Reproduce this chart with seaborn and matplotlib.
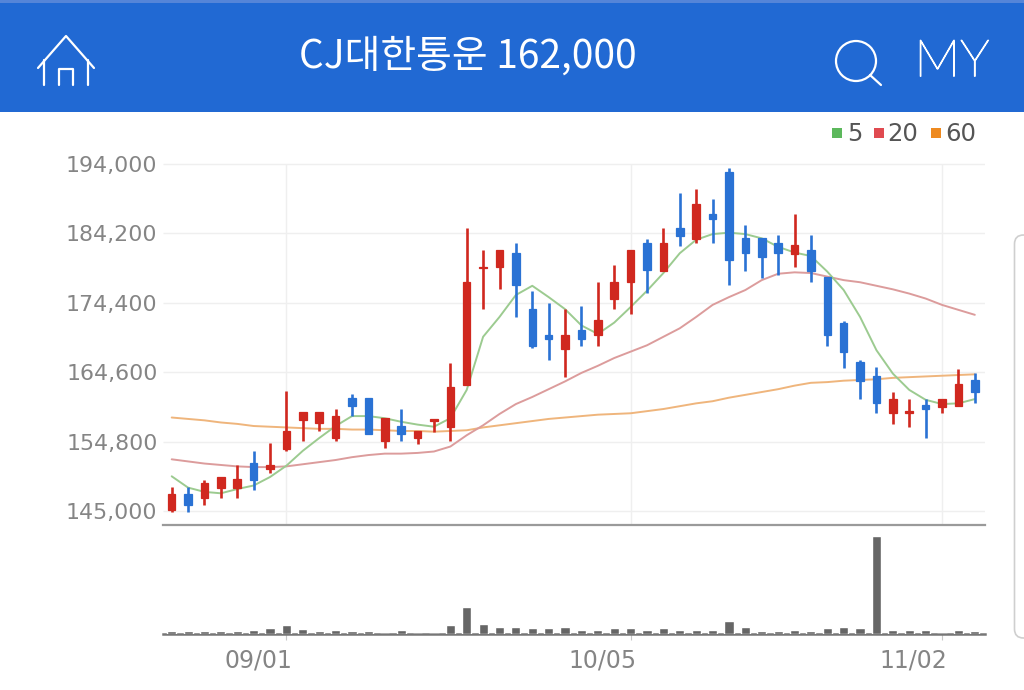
#!/usr/bin/env python3
"""CJ대한통운 daily candle chart with moving averages and volume (mobile screenshot)."""

import numpy as np
import pandas as pd
import matplotlib
matplotlib.use("Agg")
import matplotlib.pyplot as plt
import matplotlib.patheffects as pe
from matplotlib.patches import Rectangle, Circle, FancyBboxPatch
import seaborn as sns

opens = [145200, 147400, 146900, 148300, 148200, 151800, 150900, 153800, 157900, 157400,
         155300, 160900, 160900, 154900, 157000, 155300, 157700, 156900, 162800, 179300,
         179400, 181500, 173500, 169900, 167900, 170500, 169800, 174900, 177400, 182900,
         178900, 184900, 183400, 187000, 192900, 183500, 183500, 182900, 181300, 181900,
         178100, 171500, 166000, 164000, 158900, 158900, 159900, 159700, 159800, 163500]
closes = [147400, 145800, 149000, 149800, 149500, 149400, 151500, 156300, 159000, 159000,
          158400, 159800, 155900, 158100, 155900, 156300, 158000, 162500, 177400, 179500,
          181900, 176900, 168300, 169300, 169900, 169300, 171900, 177400, 181900, 179000,
          182900, 183800, 188300, 186200, 180400, 181400, 180800, 181400, 182500, 178900,
          169800, 167400, 163400, 160300, 160800, 159100, 159400, 160800, 162900, 161800]
highs = [148400, 148400, 149400, 149800, 151500, 153500, 154600, 161900, 159000, 159000,
         159400, 161500, 160900, 158100, 159400, 156300, 158000, 165900, 184900, 181900,
         181900, 182900, 176000, 174300, 173500, 173900, 177400, 179800, 181900, 183400,
         184900, 189900, 190400, 189000, 193400, 185400, 183500, 184000, 187000, 184000,
         178100, 171800, 166300, 165400, 161800, 160800, 160800, 160800, 165000, 164500]
lows = [144900, 144900, 145900, 146900, 146900, 148000, 150400, 153500, 154900, 156300,
        154900, 158400, 155900, 153900, 154900, 154500, 156200, 154900, 162800, 173500,
        176300, 172400, 168000, 166300, 163900, 168300, 168300, 173500, 172800, 175800,
        178900, 182400, 182800, 182800, 176900, 178900, 177900, 178300, 179400, 177300,
        168300, 165200, 160800, 158900, 157300, 156900, 155300, 158900, 159800, 160300]

ma5 = [149900, 148300, 147700, 147500, 148100, 148600, 149800, 151400, 153500, 155300,
       157000, 158400, 158400, 158100, 157600, 157200, 156900, 158100, 162100, 169600,
       172400, 175500, 176800, 175200, 173500, 171200, 170000, 171600, 173800, 176100,
       178600, 181400, 183300, 184100, 184300, 184100, 183500, 182300, 181500, 181000,
       178800, 176200, 172400, 167700, 164400, 162100, 160700, 160100, 160200, 160800]
ma20 = [152300, 152000, 151700, 151500, 151300, 151200, 151200, 151300, 151600, 151900,
        152200, 152600, 152900, 153100, 153100, 153200, 153400, 154100, 155700, 157100,
        158700, 160100, 161100, 162200, 163300, 164500, 165500, 166600, 167500, 168400,
        169600, 170800, 172400, 174100, 175200, 176200, 177600, 178500, 178700, 178600,
        178100, 177600, 177300, 176800, 176300, 175700, 175000, 174100, 173400, 172700]
ma60 = [158200, 158000, 157800, 157500, 157300, 157000, 156900, 156800, 156700, 156600,
        156600, 156500, 156500, 156400, 156300, 156300, 156200, 156300, 156400, 156800,
        157100, 157400, 157700, 158000, 158200, 158400, 158600, 158700, 158800, 159100,
        159400, 159800, 160200, 160500, 161000, 161400, 161800, 162200, 162700, 163100,
        163200, 163400, 163500, 163600, 163800, 163900, 164000, 164100, 164200, 164300]

# relative bar heights
volume = [10, 10, 9, 9, 9, 14, 19, 28, 15, 10, 14, 9, 9, 0, 14, 0, 0, 27, 83, 31,
          23, 23, 19, 19, 23, 14, 14, 19, 19, 14, 19, 14, 14, 14, 41, 23, 9, 9, 14, 9,
          19, 23, 19, 298, 14, 14, 14, 0, 14, 9]

price_ticks = [145000, 154800, 164600, 174400, 184200, 194000]
date_idx = [7, 28, 47]
date_labels = ["09/01", "10/05", "11/02"]
title = "CJ대한통운 162,000"

RED = "#d0281f"
BLUE = "#2a72d4"
GRID = "#efefef"
TEXT = "#858585"
W, H = 1024, 690


def axes_px(left, top, right, bottom):
    """add_axes using pixel edges measured from the top left of the image"""
    return fig.add_axes([left / W, 1 - bottom / H, (right - left) / W, (bottom - top) / H])


sns.set_style("white")
plt.rcParams["font.family"] = ["DejaVu Sans"]

fig = plt.figure(figsize=(W / 100, H / 100), dpi=100, facecolor="white")

df = pd.DataFrame({"idx": np.arange(len(opens)), "open": opens, "close": closes,
                   "high": highs, "low": lows, "ma5": ma5, "ma20": ma20, "ma60": ma60,
                   "volume": volume})
xlim = ((163 - 171.7) / 16.39, (985 - 171.7) / 16.39)

# price panel
ax = axes_px(163, 160, 985, 524.5)
ymin, ymax = 143094, 194561
ax.hlines(price_ticks, xlim[0], xlim[1], color=GRID, lw=1.0, zorder=1)
ax.vlines(date_idx, ymin, 194000, color=GRID, lw=1.0, zorder=1)

sns.lineplot(data=df, x="idx", y="ma60", ax=ax, color="#efb57c", lw=1.4, zorder=2)
sns.lineplot(data=df, x="idx", y="ma20", ax=ax, color="#dc9c9c", lw=1.4, zorder=2)
sns.lineplot(data=df, x="idx", y="ma5", ax=ax, color="#9ccb90", lw=1.4, zorder=2)

colors = np.where(df["close"] >= df["open"], RED, BLUE)
ax.vlines(df["idx"], df["low"], df["high"], colors=colors, lw=1.9, zorder=3)
ax.bar(df["idx"], (df["close"] - df["open"]).abs(), bottom=df[["open", "close"]].min(axis=1),
       width=0.46, color=colors, edgecolor=colors, lw=0.9, zorder=4)

ax.set_xlim(xlim)
ax.set_ylim(ymin, ymax)
ax.set_xticks([])
ax.set_yticks(price_ticks)
ax.set_yticklabels([f"{p:,}" for p in price_ticks], fontsize=15.9, color=TEXT)
ax.tick_params(axis="y", length=0, pad=4)
ax.set_xlabel("")
ax.set_ylabel("")
for side in ["top", "left", "right"]:
    ax.spines[side].set_visible(False)
ax.spines["bottom"].set_color("#9a9a9a")
ax.spines["bottom"].set_linewidth(1.6)
ax.patch.set_alpha(0)

# volume panel
ax_vol = axes_px(163, 535.7, 985, 634.3)
sns.barplot(data=df, x="idx", y="volume", ax=ax_vol, color="#666666", saturation=1,
            width=0.56, zorder=3)
ax_vol.set_xlim(xlim)
ax_vol.set_ylim(0, 298)
ax_vol.set_xticks(date_idx)
ax_vol.set_xticklabels([])
ax_vol.set_yticks([])
ax_vol.tick_params(axis="x", length=4.5, width=0.8, color="#c8c8c8", bottom=True)
ax_vol.set_xlabel("")
ax_vol.set_ylabel("")
for side in ["top", "left", "right"]:
    ax_vol.spines[side].set_visible(False)
ax_vol.spines["bottom"].set_color("#777777")
ax_vol.spines["bottom"].set_linewidth(1.8)
ax_vol.patch.set_alpha(0)
for i, label in zip(date_idx, date_labels):
    ax_vol.annotate(label, xy=(i, 0), xycoords=("data", "axes fraction"),
                    xytext=(4, -19), textcoords="offset points",
                    ha="right", va="center", fontsize=17, color=TEXT)

# header, legend and the card edge, all placed in image pixels
ov = fig.add_axes([0, 0, 1, 1], zorder=10)
ov.set_xlim(0, W)
ov.set_ylim(H, 0)
ov.axis("off")
ov.add_patch(Rectangle((0, 0), W, 112, color="#2169d3", lw=0))
ov.add_patch(Rectangle((0, 0), W, 3, color="#5585d8", lw=0))
ov.text(468, 57, title, color="white", fontsize=28, ha="center", va="center",
        family=["Noto Sans CJK KR", "DejaVu Sans"])

icon = dict(color="white", lw=1.6, solid_capstyle="round", solid_joinstyle="round")
ov.plot([38, 66, 94], [68, 36, 68], **icon)
ov.plot([44, 44], [60, 85], **icon)
ov.plot([88, 88], [60, 85], **icon)
ov.plot([59, 59, 73, 73], [85, 69, 69, 85], **icon)
ov.add_patch(Circle((856, 61), 20, fill=False, ec="white", lw=1.6))
ov.plot([870, 881], [75, 85], **icon)
my = ov.text(952, 62, "MY", color="white", fontsize=37, ha="center", va="center",
             family="Lato", weight="light")
my.set_path_effects([pe.withStroke(linewidth=0.9, foreground="white")])

for x, c, label, tx in [(832, "#5cb85c", "5", 847), (874, "#e04a50", "20", 887),
                        (931, "#ee8a20", "60", 945)]:
    ov.add_patch(Rectangle((x, 128), 10, 10, color=c, lw=0))
    ov.text(tx, 134, label, color="#555555", fontsize=17.5, ha="left", va="center",
            family="DejaVu Sans")

ov.add_patch(FancyBboxPatch((1014.5, 235), 40, 403, boxstyle="round,pad=0,rounding_size=9",
                            fill=False, ec="#cfcfcf", lw=1.2))

fig.savefig("out.png", dpi=100)
